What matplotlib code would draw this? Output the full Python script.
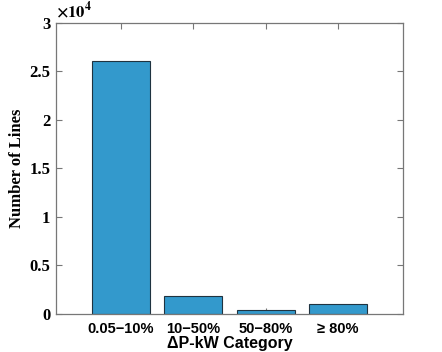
import numpy as np
import matplotlib
matplotlib.use('Agg')
import matplotlib.pyplot as plt
from matplotlib.ticker import FuncFormatter

plt.rcParams['mathtext.fontset'] = 'stix'

categories = ['0.05\u221210%', '10\u221250%', '50\u221280%', '\u2265 80%']
num_lines = [26050, 1850, 380, 1060]

fig = plt.figure(figsize=(4.42, 3.52), dpi=100)
ax = fig.add_axes([0.1267, 0.108, 0.785, 0.827])

x = np.arange(1, len(categories) + 1)
ax.bar(x, num_lines, width=0.8, color='#3399cc', edgecolor='#1f3340', linewidth=0.8, zorder=2)

ax.set_xlim(0.1, 4.9)
ax.set_ylim(0, 30000)
ax.set_xticks(x)
ax.set_xticklabels(categories, fontfamily='Liberation Sans', fontweight='bold', fontsize=10.5)
ax.set_yticks(np.arange(0, 30001, 5000))
ax.yaxis.set_major_formatter(FuncFormatter(lambda v, p: '%g' % (v / 1e4)))
for lab in ax.get_yticklabels():
    lab.set_fontfamily('Liberation Serif')
    lab.set_fontweight('bold')
    lab.set_fontsize(12)

ax.tick_params(direction='in', length=4, width=0.8, color='#777777',
               top=True, right=True, zorder=3)
ax.tick_params(axis='y', pad=4)
ax.tick_params(axis='x', pad=6)
for s in ax.spines.values():
    s.set_color('#777777')
    s.set_linewidth(0.9)
    s.set_zorder(3)

ax.set_ylabel('Number of Lines', fontfamily='Liberation Serif', fontweight='bold', fontsize=12, labelpad=3)
ax.set_xlabel('\u0394P-kW Category', fontfamily='Liberation Sans', fontweight='bold', fontsize=11.5, labelpad=0)

ax.text(0.0, 1.005, r'$\mathbf{\times 10^{4}}$', transform=ax.transAxes, fontsize=12,
        ha='left', va='bottom')

fig.savefig('out.png', dpi=100)
